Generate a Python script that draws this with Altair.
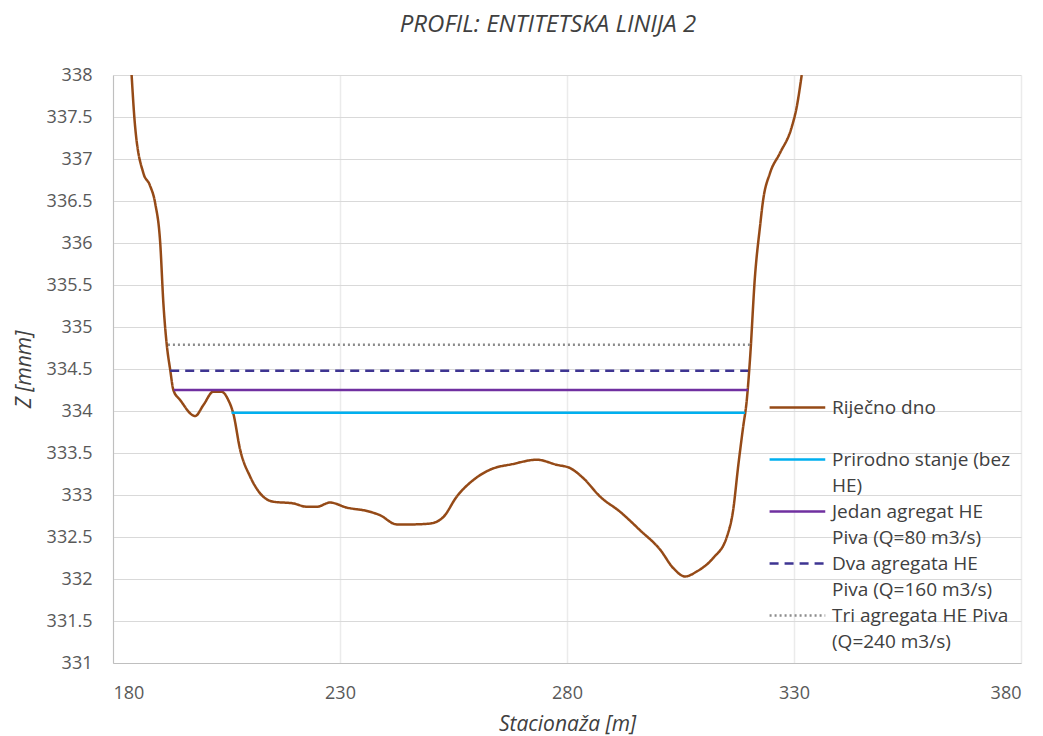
import altair as alt
import pandas as pd

# Riverbed profile (Stacionaža [m], Z [mnm])
bed_x = [184.1, 184.8, 186.7, 188.1, 189.3, 190.4, 191.1, 191.8, 192.6, 193.3, 194.8, 198.1,
         199.9, 202.1, 203.9, 205.4, 206.5, 208.0, 210.2, 212.4, 215.3, 219.7, 222.7, 224.9,
         227.8, 231.5, 235.9, 238.8, 242.5, 246.0, 249.8, 252.8, 255.7, 259.4, 263.0, 268.2,
         273.3, 277.7, 280.7, 283.6, 287.3, 291.7, 296.1, 300.5, 303.4, 306.0, 308.6, 312.2,
         315.2, 316.6, 317.7, 318.8, 319.6, 320.3, 321.4, 322.5, 323.2, 324.7, 326.9, 329.5,
         330.6, 331.7]
bed_z = [338.0, 337.43, 336.83, 336.69, 336.47, 336.0, 335.28, 334.81, 334.49, 334.25, 334.13, 333.94,
         334.07, 334.23, 334.23, 334.13, 333.97, 333.54, 333.22, 333.02, 332.92, 332.90, 332.86, 332.86,
         332.91, 332.85, 332.81, 332.76, 332.65, 332.65, 332.66, 332.74, 332.98, 333.18, 333.30, 333.37,
         333.42, 333.36, 333.32, 333.20, 332.98, 332.80, 332.58, 332.35, 332.13, 332.03, 332.09, 332.25,
         332.50, 332.82, 333.34, 333.81, 334.13, 334.61, 335.60, 336.19, 336.51, 336.83, 337.07, 337.38,
         337.62, 338.0]

series = [
    "Riječno dno",
    "Prirodno stanje (bez HE)",
    "Jedan agregat HE Piva (Q=80 m3/s)",
    "Dva agregata HE Piva (Q=160 m3/s)",
    "Tri agregata HE Piva (Q=240 m3/s)",
]
# water levels: [x_start, x_end], level
level_x = [[206.1, 319.2], [193.4, 319.9], [192.6, 319.9], [192.1, 320.3]]
level_z = [333.98, 334.25, 334.48, 334.79]

colors = ["#954A17", "#00B0F0", "#7030A0", "#3E3592", "#8C8C8C"]
dashes = [[1, 0], [1, 0], [1, 0], [9, 6], [2, 3]]
widths = [2.5, 2.5, 2.5, 2.5, 1.6]

rows = []
for i, (x, z) in enumerate(zip(bed_x, bed_z)):
    rows.append({"series": series[0], "x": x, "z": z, "o": i})
for k in range(4):
    for j in range(2):
        rows.append({"series": series[k + 1], "x": level_x[k][j], "z": level_z[k], "o": j})
df = pd.DataFrame(rows)

label_expr = (
    "datum.label == 'Prirodno stanje (bez HE)' ? ['Prirodno stanje (bez', 'HE)'] : "
    "datum.label == 'Jedan agregat HE Piva (Q=80 m3/s)' ? ['Jedan agregat HE', 'Piva (Q=80 m3/s)'] : "
    "datum.label == 'Dva agregata HE Piva (Q=160 m3/s)' ? ['Dva agregata HE', 'Piva (Q=160 m3/s)'] : "
    "datum.label == 'Tri agregata HE Piva (Q=240 m3/s)' ? ['Tri agregata HE Piva', '(Q=240 m3/s)'] : "
    "[datum.label, '']"
)

font = "Open Sans"

chart = alt.Chart(df).mark_line(clip=True, interpolate="monotone").encode(
    x=alt.X("x:Q", title="Stacionaža [m]",
            scale=alt.Scale(domain=[180, 380], nice=False),
            axis=alt.Axis(values=[180, 230, 280, 330, 380], grid=True, gridColor="#ebebeb",
                          gridWidth=1.5, ticks=False, domainColor="#bfbfbf", labelPadding=21,
                          titlePadding=11)),
    y=alt.Y("z:Q", title="Z [mnm]",
            scale=alt.Scale(domain=[331, 338], nice=False, zero=False),
            axis=alt.Axis(values=[331 + 0.5 * i for i in range(15)], grid=True, gridColor="#d9d9d9",
                          format="~g", ticks=False, domainColor="#bfbfbf", labelPadding=21,
                          titlePadding=12)),
    color=alt.Color("series:N", scale=alt.Scale(domain=series, range=colors),
                    legend=alt.Legend(title=None, orient="none", legendX=655, legendY=317,
                                      symbolType="M-1,0L3,0", symbolSize=775, symbolStrokeWidth=2,
                                      labelFontSize=19, labelFont=font, labelColor="#404040",
                                      labelLimit=300, rowPadding=0, labelOffset=33,
                                      labelBaseline="middle", labelExpr=label_expr)),
    strokeDash=alt.StrokeDash("series:N", scale=alt.Scale(domain=series, range=dashes)),
    strokeWidth=alt.StrokeWidth("series:N", scale=alt.Scale(domain=series, range=widths), legend=None),
    order="o:Q",
).properties(
    width=908, height=588,
    title=alt.Title("PROFIL: ENTITETSKA LINIJA 2", fontSize=24, font=font, fontStyle="italic",
                    fontWeight="normal", color="#404040", dx=-19, offset=29),
    autosize=alt.AutoSizeParams(type="none"),
    padding={"left": 105, "top": 67, "right": 14, "bottom": 73},
).configure(
    axis=alt.AxisConfig(labelFont=font, labelFontSize=18, labelColor="#595959",
                        titleFont=font, titleFontSize=21, titleFontStyle="italic",
                        titleFontWeight="normal", titleColor="#404040"),
    view=alt.ViewConfig(stroke=None),
    style={"guide-label": {"lineHeight": 26.5}},
)

chart.save("out.html", embed_options={"renderer": "svg", "actions": False})
